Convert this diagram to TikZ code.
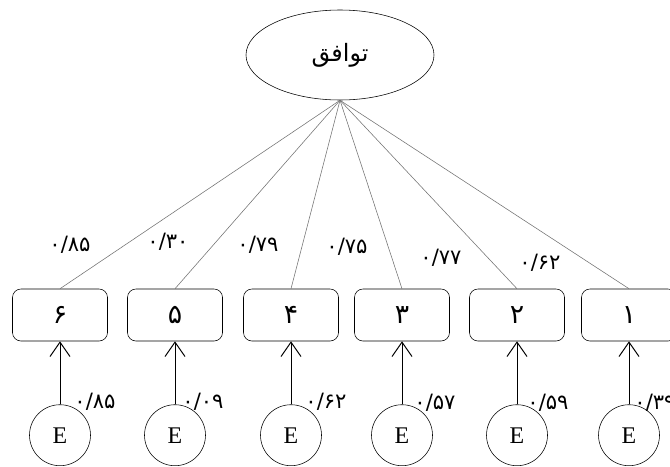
\documentclass[tikz,border=0pt]{standalone}
\usepackage{fontspec}
\setmainfont{Liberation Serif}
\newfontfamily\farsi[Script=Arabic]{DejaVu Sans}
\TeXXeTstate=1
\usepackage{tikz}
\usetikzlibrary{arrows.meta,shapes.geometric}

\begin{document}
\begin{tikzpicture}[fnode/.style={draw,ellipse,minimum width=4.7cm,minimum height=2.25cm,font=\farsi\fontsize{17}{20}\selectfont}, inode/.style={draw,rounded corners=6pt,minimum width=2.375cm,minimum height=1.3cm,font=\farsi\fontsize{19}{22}\selectfont}, enode/.style={draw,circle,minimum size=1.525cm,inner sep=0pt,font=\fontsize{17}{20}\selectfont}, wlab/.style={font=\farsi\fontsize{15}{18}\selectfont}, load/.style={draw=black!55,line width=0.4pt}, >={Straight Barb[length=3.6mm,width=5mm]}]
    \clip (0,0) rectangle (16.75,11.65);

    \node[fnode] (f) at (8.5,10.275) {\beginR توافق\endR};
    \node[inode] (6) at (1.5,3.775) {۶};
    \node[inode] (5) at (4.375,3.775) {۵};
    \node[inode] (4) at (7.275,3.775) {۴};
    \node[inode] (3) at (10.05,3.775) {۳};
    \node[inode] (2) at (12.925,3.775) {۲};
    \node[inode] (1) at (15.725,3.775) {۱};
    \node[enode] (6e) at (1.5,0.77) {E};
    \node[enode] (5e) at (4.375,0.77) {E};
    \node[enode] (4e) at (7.275,0.77) {E};
    \node[enode] (3e) at (10.05,0.77) {E};
    \node[enode] (2e) at (12.925,0.77) {E};
    \node[enode] (1e) at (15.725,0.77) {E};

    \node[wlab] (6w) at (1.75,5.525) {۰/۸۵};
    \node[wlab] (5w) at (4.2,5.6) {۰/۳۰};
    \node[wlab] (4w) at (6.45,5.525) {۰/۷۹};
    \node[wlab] (3w) at (8.675,5.475) {۰/۷۵};
    \node[wlab] (2w) at (11.025,5.2) {۰/۷۷};
    \node[wlab] (1w) at (13.5,5.075) {۰/۶۲};

    \node[wlab] (6v) at (2.375,1.6) {۰/۸۵};
    \node[wlab] (5v) at (5.075,1.6) {۰/۰۹};
    \node[wlab] (4v) at (8.15,1.6) {۰/۶۲};
    \node[wlab] (3v) at (10.875,1.575) {۰/۵۷};
    \node[wlab] (2v) at (13.7,1.575) {۰/۵۹};
    \node[wlab] (1v) at (16.375,1.575) {۰/۳۹};

    \draw[load] (f.south) -- (6.north);
    \draw[load] (f.south) -- (5.north);
    \draw[load] (f.south) -- (4.north);
    \draw[load] (f.south) -- (3.north);
    \draw[load] (f.south) -- (2.north);
    \draw[load] (f.south) -- (1.north);

   \begin{scope}[line width=0.7pt]
    \draw[->] (6e) -- (6);
    \draw[->] (5e) -- (5);
    \draw[->] (4e) -- (4);
    \draw[->] (3e) -- (3);
    \draw[->] (2e) -- (2);
    \draw[->] (1e) -- (1);
   \end{scope}
\end{tikzpicture}
\end{document}
